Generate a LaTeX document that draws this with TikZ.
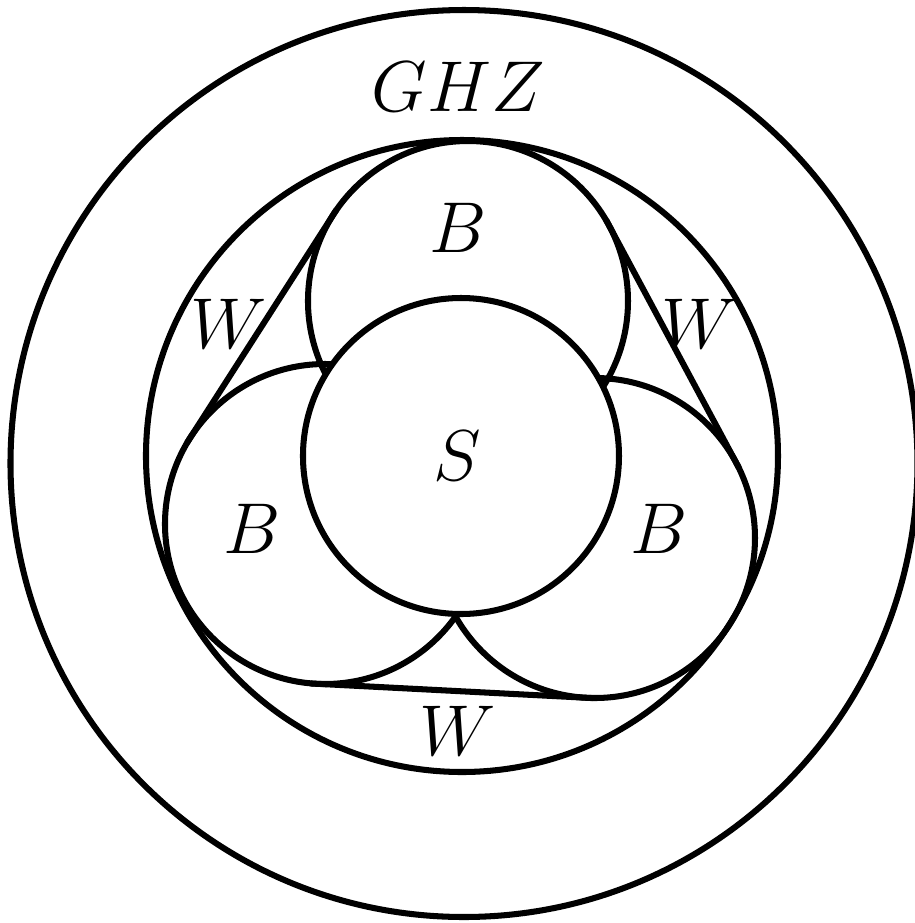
\documentclass[tikz,border=0pt]{standalone}
\usepackage{amsmath}
\usetikzlibrary{calc}
\tikzset{
  ring/.style={draw, line width=1.45pt},
  hole/.style={ring, fill=white},
  tang/.style={line width=1.45pt, shorten <=-1.5pt, shorten >=-1.5pt},
  lbl/.style={font=\LARGE, inner sep=0pt},
}

\begin{document}
\begin{tikzpicture}[x=0.24pt, y=0.24pt]
    \useasboundingbox (-462,-467) rectangle (453,456);
    \coordinate (O) at (0,0);
    \coordinate (G) at (2,-7.5);
    \coordinate (S) at (-1,0);
    \coordinate (Bt) at (6,155);
    \coordinate (Bl) at (-137,-68);
    \coordinate (Br) at (133,-82);
    % circles
    \draw[ring] (G) circle[radius=453.5];
    \draw[ring] (O) circle[radius=316];
    \draw[ring] (Bt) circle[radius=160];
    \draw[ring] (Bl) circle[radius=160];
    \draw[ring] (Br) circle[radius=160];
    \draw[hole] (S) circle[radius=158];
    % tangent points
    \coordinate (tl1) at ($(Bt)!38.4pt!-90:(Bl)$);
    \coordinate (tl2) at ($(Bl)!38.4pt!90:(Bt)$);
    \coordinate (tr1) at ($(Bt)!38.4pt!90:(Br)$);
    \coordinate (tr2) at ($(Br)!38.4pt!-90:(Bt)$);
    \coordinate (tb1) at ($(Bl)!38.4pt!-90:(Br)$);
    \coordinate (tb2) at ($(Br)!38.4pt!90:(Bl)$);
    \draw[tang] (tl1) -- (tl2);
    \draw[tang] (tr1) -- (tr2);
    \draw[tang] (tb1) -- (tb2);
    % labels
    \node[lbl] (ghz) at (-4,369) {$GHZ$};
    \node[lbl] (s) at (-5,0) {$S$};
    \node[lbl] (bt) at (-4,228) {$B$};
    \node[lbl] (bl) at (-210,-73) {$B$};
    \node[lbl] (br) at (197,-73) {$B$};
    \node[lbl] (wl) at (-233,132) {$W$};
    \node[lbl] (wr) at (238,132) {$W$};
    \node[lbl] (wb) at (-4,-275) {$W$};
\end{tikzpicture}
\end{document}
